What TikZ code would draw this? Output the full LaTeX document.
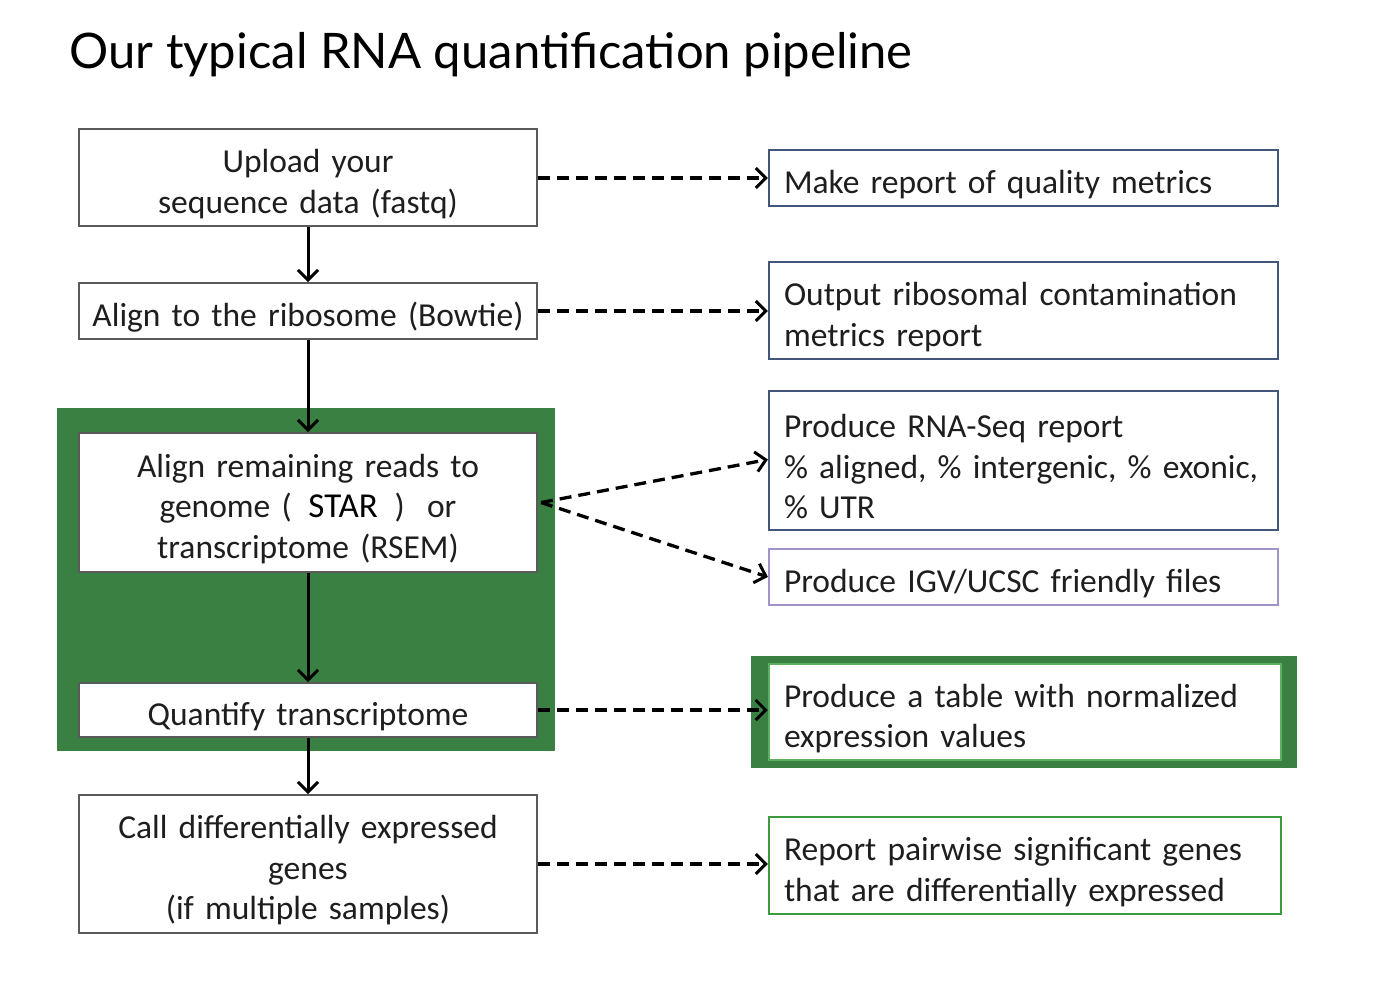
\documentclass[tikz,border=0pt]{standalone}
\usepackage{fontspec}
\setmainfont{Carlito}
\newfontfamily\titlefont{Lato}
\usetikzlibrary{arrows.meta}
\definecolor{grayb}{HTML}{5A5A5A}
\definecolor{blueb}{HTML}{42557A}
\definecolor{lavb}{HTML}{A294C8}
\definecolor{dkgreen}{HTML}{3A8042}
\definecolor{ltgreen}{HTML}{5DB05D}
\definecolor{repgreen}{HTML}{3E9A3E}
\definecolor{txt}{HTML}{1E1E1E}
\begin{document}
\begin{tikzpicture}[x=1pt,y=-1pt,
  every node/.style={text=txt},
  shiftdown/.style={execute at begin node={\rule{0pt}{36pt}}},
  lbox/.style={draw=grayb, line width=2pt, fill=white, minimum width=458pt, text width=458pt, align=center,
    inner sep=0pt, font=\fontsize{33.5}{40.5}\selectfont, shiftdown},
  rbox/.style={draw=#1, line width=2.2pt, fill=white, minimum width=509pt, text width=479pt,
    inner xsep=15pt, inner ysep=0pt, align=left, font=\fontsize{33.5}{40.5}\selectfont, shiftdown},
  solidarrow/.style={line width=3pt, -{Straight Barb[length=10pt,width=20pt,line width=3pt]}},
  dasharrow/.style={line width=3.3pt, dash pattern=on 12pt off 7pt, -{Straight Barb[length=10pt,width=20pt,line width=3pt]}}
]
\useasboundingbox (0,0) rectangle (1374,988);
\fill[white] (0,0) rectangle (1374,988);

\node[anchor=west, font=\titlefont\fontsize{49}{56}\selectfont, text=black] (title) at (66,55) {Our typical RNA quantification pipeline};

% green background panels
\node[fill=dkgreen, minimum width=498pt, minimum height=343pt, inner sep=0pt] (panel) at (306,579.5) {};
\node[fill=dkgreen, minimum width=546pt, minimum height=112pt, inner sep=0pt] (tpanel) at (1024,712) {};

% left column
\node[lbox, minimum height=97pt] (up) at (308,177.5) {Upload your\\sequence data (fastq)};
\node[lbox, minimum height=56pt] (rib) at (308,311) {Align to the ribosome (Bowtie)};
\node[lbox, minimum height=139pt] (rem) at (308,502.5) {Align remaining reads to\\genome (\hspace{0.5em}{\fontsize{35}{40}\selectfont\color{black}STAR}\hspace{0.5em}) \ or\\transcriptome (RSEM)};
\node[lbox, minimum height=54pt] (quant) at (308,710) {Quantify transcriptome};
\node[lbox, minimum height=138pt] (call) at (308,864) {Call differentially expressed\\genes\\(if multiple samples)};

% right column
\node[rbox=blueb, minimum height=56pt] (qm) at (1023.5,178) {Make report of quality metrics};
\node[rbox=blueb, minimum height=97pt] (rc) at (1023.5,310.5) {Output ribosomal contamination\\metrics report};
\node[rbox=blueb, minimum height=139pt] (rs) at (1023.5,460.5) {Produce RNA-Seq report\\\% aligned, \% intergenic, \% exonic,\\\% UTR};
\node[rbox=lavb, minimum height=56pt] (igv) at (1023.5,577) {Produce IGV/UCSC friendly files};
\node[draw=ltgreen, line width=2.5pt, fill=white, minimum width=512pt, text width=482pt, inner xsep=15pt, inner ysep=0pt,
  align=left, font=\fontsize{33.5}{40.5}\selectfont, shiftdown, minimum height=96pt] (tab) at (1025,712) {Produce a table with normalized\\expression values};
\node[rbox=repgreen, minimum width=512pt, text width=482pt, minimum height=97pt] (pw) at (1025,865.5) {Report pairwise significant genes\\that are differentially expressed};

% solid arrows
\draw[solidarrow] (up.south) -- (rib.north);
\draw[solidarrow] (rib.south) -- (rem.north);
\draw[solidarrow] (rem.south) -- (quant.north);
\draw[solidarrow] (quant.south) -- (call.north);

% dashed arrows
\draw[dasharrow] (up.east |- qm.west) -- (qm.west);
\draw[dasharrow] (rib.east) -- (rc.west |- rib.east);
\draw[dasharrow] ([xshift=3pt]rem.east) -- ([yshift=1pt]rs.west);
\draw[dasharrow] ([xshift=3pt]rem.east) -- (igv.west);
\draw[dasharrow] (quant.east) -- (tab.west |- quant.east);
\draw[dasharrow] (call.east) -- (pw.west |- call.east);
\end{tikzpicture}
\end{document}
